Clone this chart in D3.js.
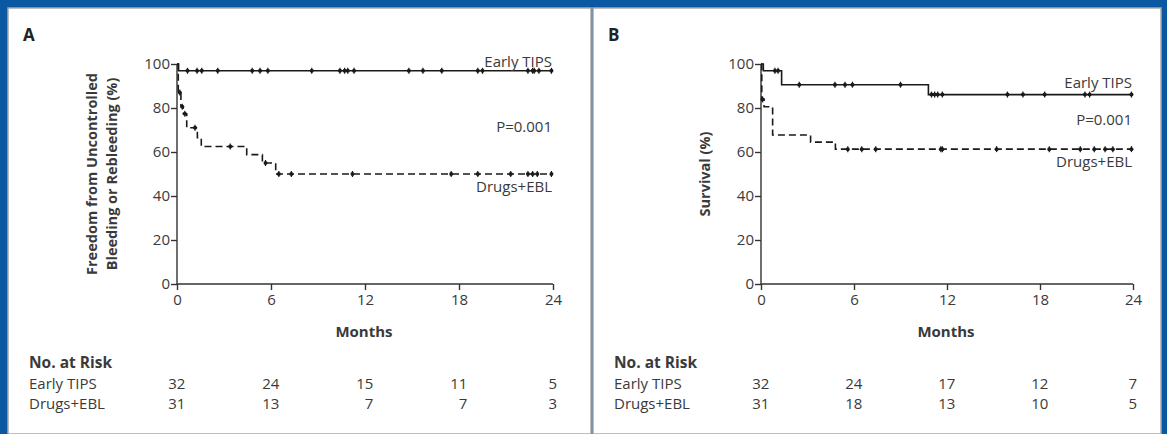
<!DOCTYPE html>
<html>
<head>
<meta charset="utf-8">
<script src="https://cdn.jsdelivr.net/npm/d3@7"></script>
<style>
  body { margin: 0; background: #fff; }
  text { font-family: "Open Sans", "Noto Sans", sans-serif; fill: #3a3a3a; }
</style>
</head>
<body>
<div id="chart"></div>
<script>
// Axis ticks
const monthTicks = [0, 6, 12, 18, 24]
const pctTicks = [0, 20, 40, 60, 80, 100]

// Panel A: freedom from uncontrolled bleeding or rebleeding, [month, %]
const aTipsSteps = [[0, 100], [0.1, 96.9], [23.9, 96.9]]
const aTipsCensored = [0.67, 1.28, 1.58, 2.6, 4.8, 5.3, 5.8, 8.6, 10.4, 10.7, 10.9, 11.3, 14.8, 15.7, 16.9, 19.2, 19.5, 22.4, 22.7, 22.8, 23.1, 23.9]
const aDrugSteps = [[0, 100], [0.08, 87.1], [0.25, 80.6], [0.4, 77.4], [0.62, 71.0], [1.3, 66.5], [1.55, 62.5], [4.45, 58.8], [5.45, 55.0], [6.3, 50.0], [23.9, 50.0]]
const aDrugCensored = [0.18, 0.34, 0.5, 1.15, 3.4, 5.65, 6.5, 7.3, 11.2, 17.5, 19.2, 21.3, 22.4, 22.7, 23.0, 23.9]
const aRiskTips = [32, 24, 15, 11, 5]
const aRiskDrug = [31, 13, 7, 7, 3]

// Panel B: survival, [month, %]
const bTipsSteps = [[0, 100], [0.15, 96.9], [1.33, 90.6], [10.8, 86.1], [23.9, 86.1]]
const bTipsCensored = [0.9, 1.1, 2.47, 4.77, 5.42, 5.9, 9.0, 11.0, 11.2, 11.4, 11.7, 15.9, 16.9, 18.3, 20.9, 21.2, 23.9]
const bDrugSteps = [[0, 100], [0.05, 83.9], [0.2, 80.6], [0.75, 67.7], [3.2, 64.5], [4.8, 61.3], [23.9, 61.3]]
const bDrugCensored = [0.1, 5.6, 6.5, 7.4, 11.6, 11.7, 15.2, 18.6, 20.6, 21.5, 22.2, 22.7, 23.9]
const bRiskTips = [32, 24, 17, 12, 7]
const bRiskDrug = [31, 18, 13, 10, 5]

const groupNames = ["Early TIPS", "Drugs+EBL"]

const width = 1167
const height = 434
const fs = 15

const panels = [
  {
    letter: "A", left: 8, right: 591, x0: 177, x1: 553,
    yLabel: ["Freedom from Uncontrolled", "Bleeding or Rebleeding (%)"], yLabelX: 97,
    tips: aTipsSteps, tipsCens: aTipsCensored, drug: aDrugSteps, drugCens: aDrugCensored,
    riskTips: aRiskTips, riskDrug: aRiskDrug,
    labelY: { tips: 67, p: 132, drug: 192 }
  },
  {
    letter: "B", left: 593, right: 1161, x0: 761, x1: 1133,
    yLabel: ["Survival (%)"], yLabelX: 710,
    tips: bTipsSteps, tipsCens: bTipsCensored, drug: bDrugSteps, drugCens: bDrugCensored,
    riskTips: bRiskTips, riskDrug: bRiskDrug,
    labelY: { tips: 88, p: 125, drug: 167 }
  }
]

const svg = d3.select("#chart").append("svg")
  .attr("width", width)
  .attr("height", height)

// blue frame
svg.append("rect").attr("width", width).attr("height", height).attr("fill", "#0b58a2")

const yScale = d3.scaleLinear().domain([0, 100]).range([284, 64])

function stepValue(steps, t) {
  let v = steps[0][1]
  steps.forEach(s => { if (s[0] <= t) v = s[1] })
  return v
}

panels.forEach(p => {
  svg.append("rect")
    .attr("x", p.left).attr("y", 8)
    .attr("width", p.right - p.left).attr("height", height - 8)
    .attr("fill", "#fff")
    .attr("stroke", "#a8a8a8")
    .attr("stroke-width", 1.5)

  const g = svg.append("g")
  const xScale = d3.scaleLinear().domain([0, 24]).range([p.x0, p.x1])

  g.append("text")
    .attr("x", p.left + 15).attr("y", 41)
    .attr("font-size", 17).attr("font-weight", "bold")
    .style("fill", "#222")
    .text(p.letter)

  // axes
  const yAxis = g.append("g")
    .attr("transform", `translate(${p.x0},0)`)
    .call(d3.axisLeft(yScale).tickValues(pctTicks).tickSize(6).tickPadding(1))
  const xAxis = g.append("g")
    .attr("transform", `translate(0,${yScale(0)})`)
    .call(d3.axisBottom(xScale).tickValues(monthTicks).tickSize(6).tickPadding(4))
  ;[yAxis, xAxis].forEach(ax => {
    ax.attr("font-size", fs).attr("font-family", null)
    ax.select(".domain").attr("stroke", "#333").attr("stroke-width", 1.4)
    ax.selectAll(".tick line").attr("stroke", "#333").attr("stroke-width", 1.4)
    ax.selectAll(".tick text").style("fill", "#3a3a3a")
  })
  yAxis.select(".domain").attr("d", `M0,${yScale(0)}V${yScale(100)}`)
  xAxis.select(".domain").attr("d", `M${p.x0},0H${p.x1}`)

  // y label
  const yl = g.append("text")
    .attr("transform", `translate(${p.yLabelX},${yScale(50)}) rotate(-90)`)
    .attr("text-anchor", "middle")
    .attr("font-size", 14.5).attr("font-weight", "bold")
  p.yLabel.forEach((line, i) => {
    yl.append("tspan").attr("x", 0).attr("dy", i === 0 ? 0 : 20).text(line)
  })

  g.append("text")
    .attr("x", (p.x0 + p.x1) / 2 - 1).attr("y", 337)
    .attr("text-anchor", "middle")
    .attr("font-size", 15).attr("font-weight", "bold")
    .text("Months")

  // curves
  const line = d3.line()
    .x(d => xScale(d[0]))
    .y(d => yScale(d[1]))
    .curve(d3.curveStepAfter)

  const series = [
    { steps: p.tips, cens: p.tipsCens, dash: null },
    { steps: p.drug, cens: p.drugCens, dash: "7,4" }
  ]
  series.forEach(s => {
    g.append("path")
      .attr("d", line(s.steps))
      .attr("fill", "none")
      .attr("stroke", "#1a1a1a")
      .attr("stroke-width", 1.6)
      .attr("stroke-dasharray", s.dash)
    const marks = g.append("g").selectAll("g")
      .data(s.cens)
      .join("g")
      .attr("transform", d => `translate(${xScale(d)},${yScale(stepValue(s.steps, d))})`)
    marks.append("line")
      .attr("y1", -3).attr("y2", 3)
      .attr("stroke", "#1a1a1a").attr("stroke-width", 1.2)
    marks.append("circle")
      .attr("r", 2).attr("fill", "#1a1a1a")
  })

  // curve labels
  g.append("text").attr("x", p.x1 - 1).attr("y", p.labelY.tips)
    .attr("text-anchor", "end").attr("font-size", fs).text(groupNames[0])
  g.append("text").attr("x", p.x1 - 1).attr("y", p.labelY.p)
    .attr("text-anchor", "end").attr("font-size", fs).text("P=0.001")
  g.append("text").attr("x", p.x1 - 1).attr("y", p.labelY.drug)
    .attr("text-anchor", "end").attr("font-size", fs).text(groupNames[1])

  // number at risk
  g.append("text")
    .attr("x", p.left + 21).attr("y", 368)
    .attr("font-size", 15.5).attr("font-weight", "bold")
    .text("No. at Risk")
  const rows = [p.riskTips, p.riskDrug]
  rows.forEach((row, r) => {
    const y = 389 + r * 20
    g.append("text")
      .attr("x", p.left + 21).attr("y", y)
      .attr("font-size", fs)
      .text(groupNames[r])
    g.selectAll(null)
      .data(row)
      .join("text")
      .attr("x", (d, i) => {
        const w = d3.max(rows, rr => String(rr[i]).length)
        return xScale(monthTicks[i]) + w * 4.2
      })
      .attr("y", y)
      .attr("text-anchor", "end")
      .attr("font-size", fs)
      .text(d => d)
  })
})
</script>
</body>
</html>
